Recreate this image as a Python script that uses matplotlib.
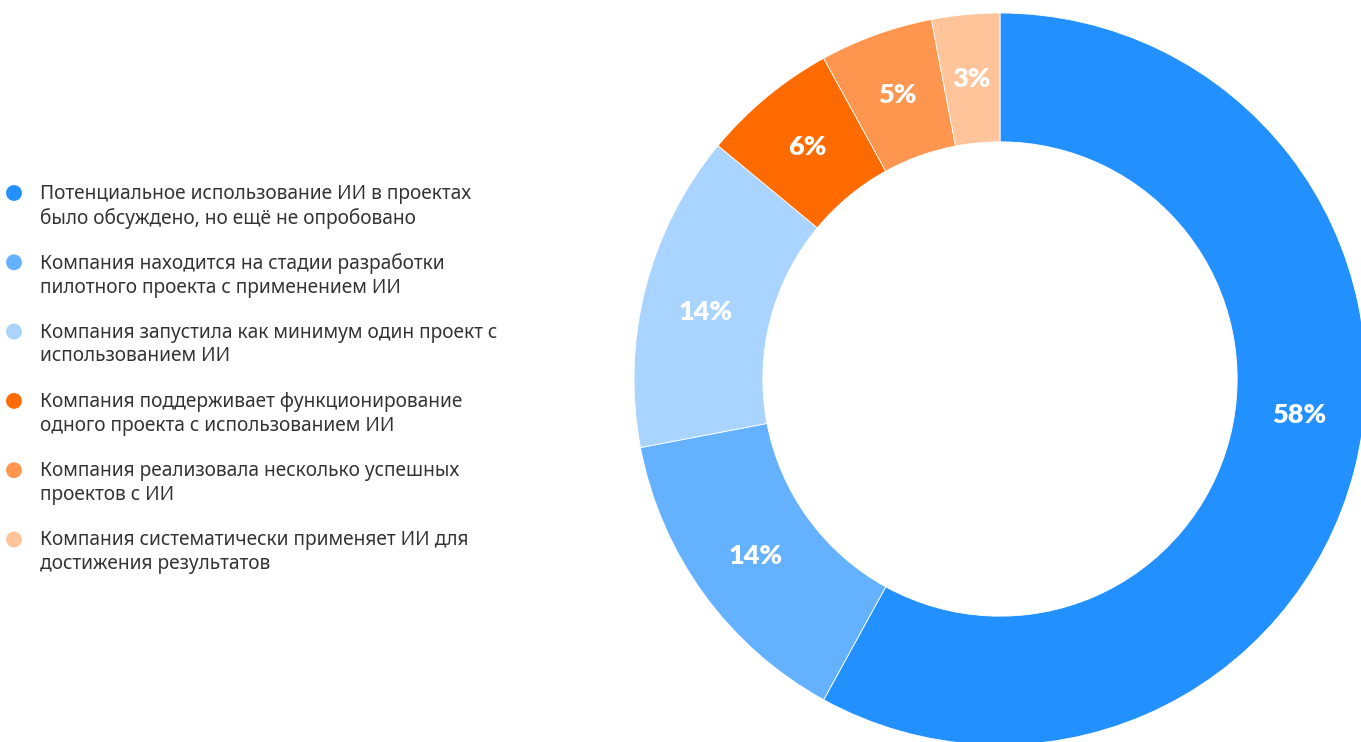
import numpy as np
import matplotlib.pyplot as plt

plt.rcParams["font.family"] = ["Noto Sans", "DejaVu Sans"]

# Доли компаний по стадии внедрения ИИ, %
shares = [58, 14, 14, 6, 5, 3]
labels = [
    "Потенциальное использование ИИ в проектах\nбыло обсуждено, но ещё не опробовано",
    "Компания находится на стадии разработки\nпилотного проекта с применением ИИ",
    "Компания запустила как минимум один проект с\nиспользованием ИИ",
    "Компания поддерживает функционирование\nодного проекта с использованием ИИ",
    "Компания реализовала несколько успешных\nпроектов с ИИ",
    "Компания систематически применяет ИИ для\nдостижения результатов",
]
colors = ["#2291FF", "#64B1FF", "#A8D4FF", "#FF6B00", "#FF9650", "#FFC49A"]

W, H = 1361, 742
fig = plt.figure(figsize=(W / 100, H / 100), dpi=100)

# кольцевая диаграмма: центр (1000, 379) px, радиус 366 px
cx, cy, r = 1000, 379, 366
ring = 0.352
ax = fig.add_axes([(cx - r) / W, (H - cy - r) / H, 2 * r / W, 2 * r / H])
wedges, _ = ax.pie(
    shares,
    colors=colors,
    startangle=90,
    counterclock=False,
    radius=1,
    wedgeprops=dict(width=ring, edgecolor="white", linewidth=0.6),
)
ax.set_xlim(-1, 1)
ax.set_ylim(-1, 1)
ax.set_aspect("equal")
ax.axis("off")

# подписи процентов посередине кольца (большую долю чуть выше середины)
shift = [7.5, 0, 1.5, 0, 0, 0]
mid_r = 1 - ring / 2
for w, s, d in zip(wedges, shares, shift):
    ang = np.deg2rad((w.theta1 + w.theta2) / 2 + d)
    ax.text(mid_r * np.cos(ang), mid_r * np.sin(ang), f"{s}%",
            ha="center", va="center", color="white", fontsize=19.5,
            fontweight="heavy", family=["Lato", "DejaVu Sans"])

# легенда слева, в пиксельных координатах
lg = fig.add_axes([0, 0, 1, 1])
lg.set_xlim(0, W)
lg.set_ylim(H, 0)
lg.axis("off")
y0, step = 193, 69.3
ys = y0 + step * np.arange(len(labels))
lg.scatter(np.full(len(labels), 14), ys, s=130, c=colors, linewidths=0)
for y, lab in zip(ys, labels):
    lg.text(40, y - 9, lab, ha="left", va="top",
            fontsize=13.75, color="#333333", linespacing=1.24)

fig.savefig("out.png", dpi=100)
